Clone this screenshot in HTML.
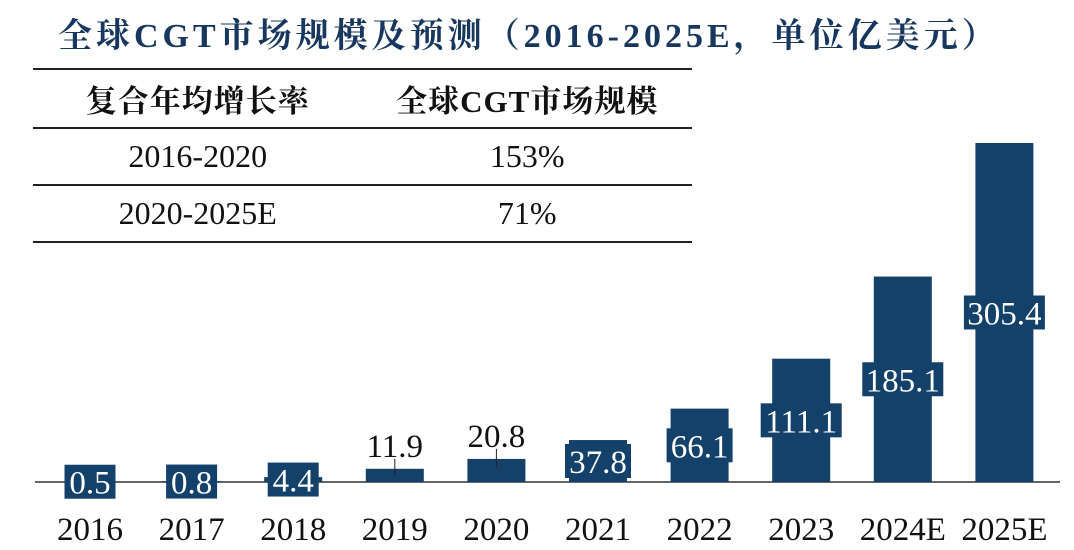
<!DOCTYPE html>
<html><head><meta charset="utf-8"><style>
body{margin:0;width:1074px;height:550px;background:#fff;overflow:hidden;position:relative;font-family:"Liberation Serif","Noto Serif CJK SC",serif}
#title{position:absolute;left:58px;top:8px;font-size:34px;font-weight:bold;color:#17375e;white-space:nowrap;letter-spacing:4px}
table{position:absolute;left:33px;top:68px;width:659px;border-collapse:collapse;font-size:32px;color:#111}
td,th{text-align:center;border-bottom:2px solid #222;padding:0}
table{border-top:2px solid #222}
th{height:57px;font-weight:bold;font-size:31px;letter-spacing:1px}
td{height:55px}
</style></head><body>
<div id="title">全球CGT市场规模及预测（2016-2025E，单位亿美元）</div>
<table>
<tr><th style="width:50%">复合年均增长率</th><th>全球CGT市场规模</th></tr>
<tr><td>2016-2020</td><td>153%</td></tr>
<tr><td>2020-2025E</td><td>71%</td></tr>
</table>
<svg id="chart" width="1074" height="550" style="position:absolute;left:0;top:0"></svg>
<script>
const categories=["2016","2017","2018","2019","2020","2021","2022","2023","2024E","2025E"];
const values=[0.5,0.8,4.4,11.9,20.8,37.8,66.1,111.1,185.1,305.4];
const labels=["0.5","0.8","4.4","11.9","20.8","37.8","66.1","111.1","185.1","305.4"];
const svg=document.getElementById('chart');
const NS='http://www.w3.org/2000/svg';
const baseY=482, scale=339/305.4, x0=90, step=101.6, bw=58;
const y=v=>baseY-v*scale;
const xc=i=>x0+i*step;
function mk(t,a){const e=document.createElementNS(NS,t);for(const k in a)e.setAttribute(k,a[k]);svg.appendChild(e);return e;}
const axis=mk('line',{x1:35,x2:1060,y1:baseY,y2:baseY,stroke:'#333','stroke-width':1.5});


categories.forEach((c,i)=>{
  const v=values[i];
  const r=mk('rect',{x:xc(i)-bw/2,y:y(v),width:bw,height:baseY-y(v),fill:'#14416a'});
  
  
  const t=mk('text',{x:xc(i),y:540,'text-anchor':'middle','font-size':33,fill:'#111','font-family':'Liberation Serif'});
  t.textContent=c;
  
  
  let above=v>=10&&v<30;
  let my=above? y(v)-24 : (y(v)+baseY)/2;
  if(!above){
    const w=labels[i].length*15+6;
    const b=mk('rect',{x:xc(i)-w/2,y:my-17,width:w,height:34,fill:'#14416a'});
    
    
  } else {
    mk('line',{x1:xc(i),x2:xc(i),y1:y(v)-10,y2:y(v)+8,stroke:'#222','stroke-width':1});
  }
  const l=mk('text',{x:xc(i),y:my+12,'text-anchor':'middle','font-size':33,fill:above?'#111':'#fff','font-family':'Liberation Serif'});
  l.textContent=labels[i];
  
  
});
</script>
</body></html>
